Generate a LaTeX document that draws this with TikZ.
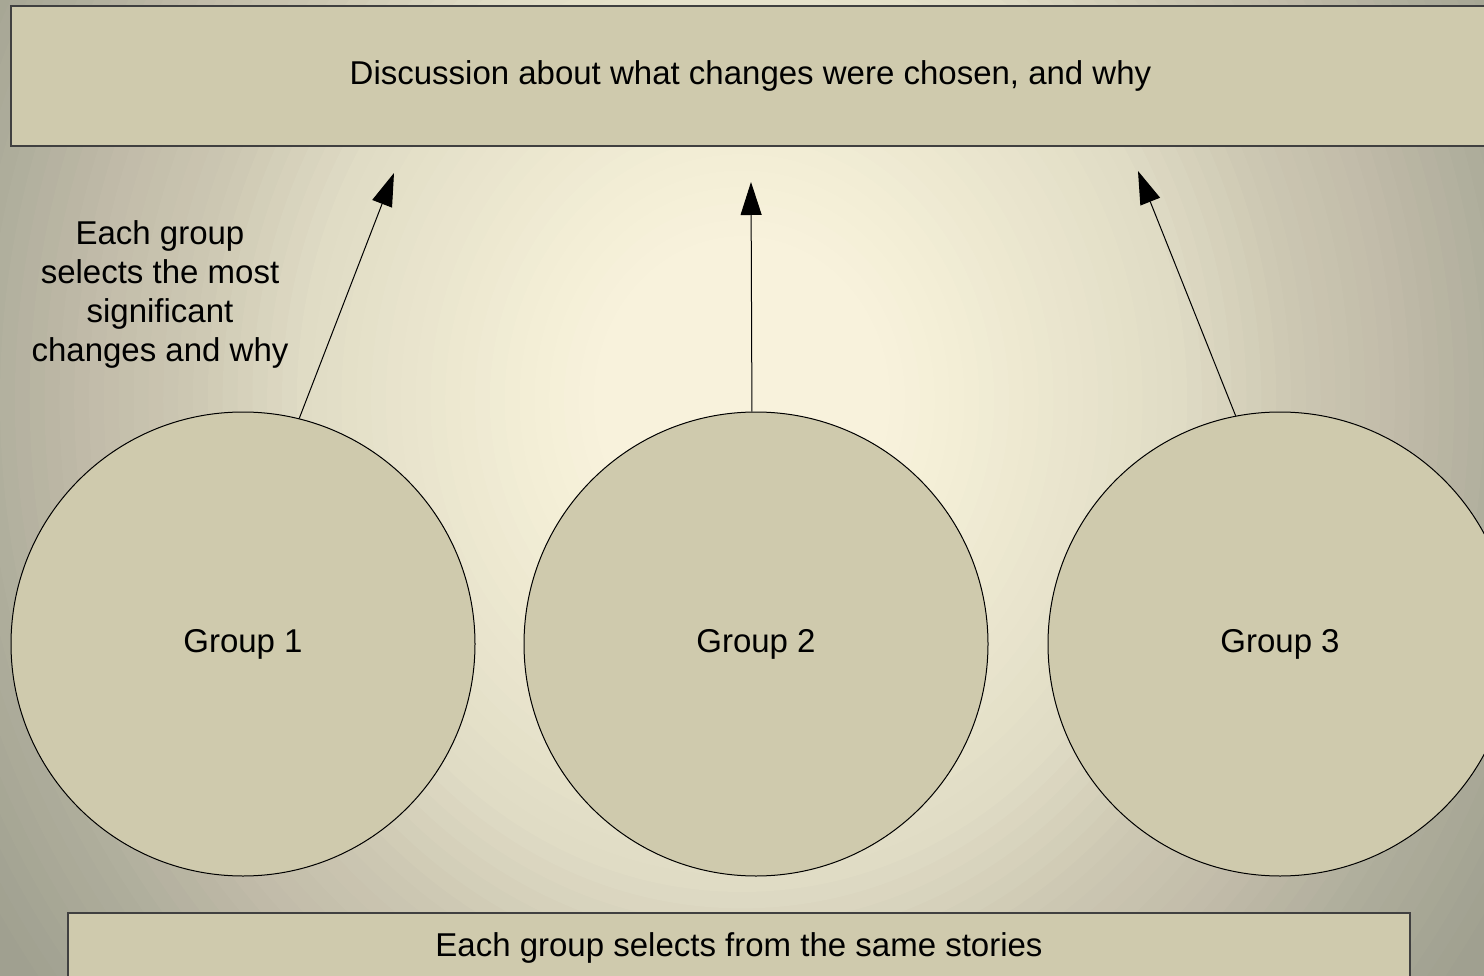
\documentclass[tikz,border=0pt]{standalone}
\usepackage{fontspec}
\setmainfont{Liberation Sans}
\usetikzlibrary{arrows.meta}
\definecolor{boxfill}{HTML}{CFCAAD}
\definecolor{bgA}{HTML}{A0A090}
\definecolor{bgB}{HTML}{AEAD9B}
\definecolor{bgC}{HTML}{C0BAA8}
\definecolor{bgD}{HTML}{CEC9B4}
\definecolor{bgE}{HTML}{E0DCC5}
\definecolor{bgF}{HTML}{F3EED6}
\definecolor{bgG}{HTML}{F8F2DC}
% #1 outer index, #2 next index, #3 inner index (exclusive), #4 outer colour, #5 inner colour
\newcommand\bgseg[5]{%
  \foreach \i in {#1,#2,...,\the\numexpr#3+1\relax}{%
    \pgfmathsetmacro\p{(\i-#3)/(#1-#3)*100}%
    \pgfmathsetmacro\rx{14.84*\i}%
    \pgfmathsetmacro\ry{16.4*\i}%
    \fill[#4!\p!#5] (742,400) ellipse [x radius=\rx, y radius=\ry];%
  }}
\tikzset{
  panel/.style={draw=black!75, line width=1.5pt, fill=boxfill, rectangle, inner sep=0pt},
  groupcircle/.style={draw=black, line width=1pt, fill=boxfill, circle, minimum size=464pt, inner sep=0pt},
  flow/.style={line width=1pt, -{Triangle[length=33pt,width=21pt]}},
}
\begin{document}
\begin{tikzpicture}[x=1pt,y=-1pt,font=\fontsize{33}{39}\selectfont]
\useasboundingbox (0,0) rectangle (1484,976);
\clip (0,0) rectangle (1484,976);
\fill[bgA] (0,0) rectangle (1484,976);
\bgseg{60}{59}{52}{bgA}{bgB}
\bgseg{52}{51}{45}{bgB}{bgC}
\bgseg{45}{44}{37}{bgC}{bgD}
\bgseg{37}{36}{30}{bgD}{bgE}
\bgseg{30}{29}{15}{bgE}{bgF}
\bgseg{15}{14}{10}{bgF}{bgG}
\fill[bgG] (742,400) ellipse [x radius=148.4, y radius=164];
\node[panel, minimum width=1479pt, minimum height=140pt] (top) at (750.5,76) {Discussion about what changes were chosen, and why};
\node[panel, minimum width=1342pt, minimum height=70pt] (bottom) at (739,948) {Each group selects from the same stories};
\node[groupcircle] (g1) at (243,644) {\raisebox{-2pt}{Group 1}};
\node[groupcircle] (g2) at (756,644) {\raisebox{-2pt}{Group 2}};
\node[groupcircle] (g3) at (1280,644) {\raisebox{-2pt}{Group 3}};
\node[align=center, inner sep=0pt] (note) at (160,294) {Each group\\selects the most\\significant\\changes and why};
\coordinate (t1) at (394,173);
\coordinate (t2) at (751,182);
\coordinate (t3) at (1138,171);
\draw[flow] (g1.76) -- (t1);
\draw[flow] (g2.91.5) -- (t2);
\draw[flow] (g3.101) -- (t3);
\end{tikzpicture}
\end{document}
